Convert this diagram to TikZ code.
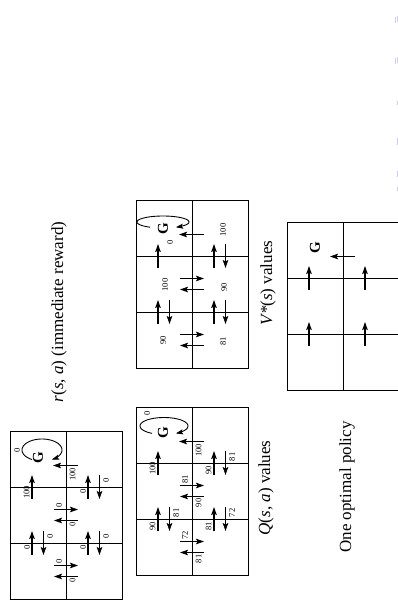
\documentclass[tikz,border=0pt]{standalone}
\usepackage{fontspec}
\setmainfont{Liberation Serif}
\usetikzlibrary{arrows.meta}
\definecolor{faint}{RGB}{205,205,240}
\tikzset{
  gridline/.style={line width=1pt},
  arr/.style={line width=1.1pt,-{Stealth[length=8pt,width=5.5pt,inset=1.5pt]}},
  loopline/.style={line width=0.9pt,-{Stealth[length=7pt,width=5pt,inset=1.2pt]}},
  num/.style={font=\fontsize{8.5}{9}\selectfont,rotate=90,inner sep=0pt},
  caption/.style={font=\fontsize{17}{19}\selectfont,rotate=90,inner sep=0pt},
  goal/.style={font=\fontsize{15}{15}\selectfont\bfseries,rotate=90,inner sep=0pt},
  speck/.style={draw=faint,line width=0.9pt},
}
% grid: #1 left x, #2 top y
\newcommand\Grid[2]{%
  \draw[gridline] (#1,#2) rectangle ++(112,168);
  \draw[gridline] (#1+56,#2) -- ++(0,168);
  \draw[gridline] (#1,#2+56) -- ++(112,0);
  \draw[gridline] (#1,#2+112) -- ++(112,0);}
% arrows with labels: #1 node name, #2 position across, #3 boundary/centre, #4 label
\newcommand\UpArr[4]{%
  \draw[arr] (#2-6,#3+12) -- (#2-6,#3-12);
  \node[num,anchor=west] (#1) at (#2-11.5,#3+12) {#4};}
\newcommand\DnArr[4]{%
  \draw[arr] (#2+5.5,#3-12) -- (#2+5.5,#3+12);
  \node[num,anchor=east] (#1) at (#2+12,#3-10.5) {#4};}
\newcommand\RtArr[4]{%
  \draw[arr] (#2-12,#3-5.5) -- (#2+12,#3-5.5);
  \node[num,anchor=west] (#1) at (#2-7,#3-7.5) {#4};}
\newcommand\LtArr[4]{%
  \draw[arr] (#2+12,#3+5.5) -- (#2-12,#3+5.5);
  \node[num,anchor=east] (#1) at (#2+6.5,#3+7.5) {#4};}
\newcommand\GArr[4]{%
  \draw[arr] (#2+12,#3+6.5) -- (#2-13,#3+6.5);
  \node[num,anchor=east] (#1) at (#2+6.5,#3+9) {#4};}
% single-digit labels close to a horizontal boundary (r grid)
\newcommand\UpZero[4]{%
  \draw[arr] (#2-6,#3+12) -- (#2-6,#3-12);
  \node[num] (#1) at (#2-11,#3+4) {#4};}
\newcommand\DnZero[4]{%
  \draw[arr] (#2+5.5,#3-12) -- (#2+5.5,#3+12);
  \node[num] (#1) at (#2+12,#3-7) {#4};}
\begin{document}
\begin{tikzpicture}[x=1pt,y=-1pt]
\useasboundingbox (0,0) rectangle (398,606);

% ---------- r(s,a) grid ----------
\Grid{10}{431}
\node[goal] (rG) at (38,458) {G};
\draw[loopline] plot[smooth,domain=120:420,samples=60] ({42+20*cos(\x)},{450+11*sin(\x)});
\node[num] (rL) at (17,450) {0};
\GArr{rg}{66}{459}{100}
\UpArr{ru1}{38}{487}{100}
\UpZero{ru2}{94}{487}{0}
\DnZero{rd2}{94}{487}{0}
\RtArr{rr2}{66}{515}{0}
\LtArr{rl2}{66}{515}{0}
\UpZero{ru3}{38}{543}{0}
\DnZero{rd3}{38}{543}{0}
\UpZero{ru4}{94}{543}{0}
\DnZero{rd4}{94}{543}{0}
\RtArr{rr3}{66}{571}{0}
\LtArr{rl3}{66}{571}{0}
\node[caption] (capr) at (59,312) {\textit{r}(\textit{s}, \textit{a}) (immediate reward)};

% ---------- Q(s,a) grid ----------
\Grid{136}{407}
\node[goal] (qG) at (163,433) {G};
\draw[loopline] plot[smooth,domain=120:420,samples=60] ({164+24*cos(\x)},{426+8.5*sin(\x)});
\node[num] (qL) at (147,413) {0};
\GArr{qg}{192}{435}{100}
\UpArr{qu1}{164}{463}{100}
\UpArr{qu2}{220}{463}{90}
\DnArr{qd2}{220}{463}{81}
\RtArr{qr2}{192}{491}{81}
\LtArr{ql2}{192}{491}{90}
\UpArr{qu3}{164}{519}{90}
\DnArr{qd3}{164}{519}{81}
\UpArr{qu4}{220}{519}{81}
\DnArr{qd4}{220}{519}{72}
\RtArr{qr3}{192}{547}{72}
\LtArr{ql3}{192}{547}{81}
\node[caption] (capq) at (266,488) {\textit{Q}(\textit{s}, \textit{a}) values};

% ---------- V*(s) grid ----------
\Grid{136}{200}
\node[goal] (vG) at (163,229) {G};
\draw[loopline] plot[smooth,domain=120:420,samples=60] ({163+26*cos(\x)},{222+6*sin(\x)});
\node[num] (v0) at (170,242) {0};
\GArr{vg}{192}{228}{}
\UpArr{vu1}{164}{256}{}
\UpArr{vu2}{220}{256}{}
\DnArr{vd2}{220}{256}{}
\RtArr{vr2}{192}{284}{}
\LtArr{vl2}{192}{284}{}
\UpArr{vu3}{164}{312}{}
\DnArr{vd3}{164}{312}{}
\UpArr{vu4}{220}{312}{}
\DnArr{vd4}{220}{312}{}
\RtArr{vr3}{192}{340}{}
\LtArr{vl3}{192}{340}{}
\node[num] (v1) at (223,230) {100};
\node[num] (v2) at (165,285) {100};
\node[num] (v3) at (224,287) {90};
\node[num] (v4) at (163,340) {90};
\node[num] (v5) at (223,341) {81};
\node[caption] (capv) at (268,283) {\textit{V*}(\textit{s}) values};

% ---------- optimal policy grid ----------
\Grid{287}{222}
\node[goal] (pG) at (315,248) {G};
\GArr{pg}{343}{250}{}
\UpArr{pu1}{315}{278}{}
\UpArr{pu2}{371}{278}{}
\UpArr{pu3}{315}{334}{}
\UpArr{pu4}{371}{334}{}
\node[caption] (capp) at (347,487) {One optimal policy};

% ---------- faint specks at the right edge ----------
\draw[speck] (395.3,17) -- (395.3,23) (397.3,16) -- (397.3,22);
\draw[speck] (395.3,58) -- (395.3,64) (397.3,57) -- (397.3,63);
\draw[speck] (397,101) -- (397,105);
\draw[speck] (397,138) -- (397,145);
\draw[speck] (397,171) -- (397,177);
\draw[speck] (397,187) -- (397,191);
\end{tikzpicture}
\end{document}
